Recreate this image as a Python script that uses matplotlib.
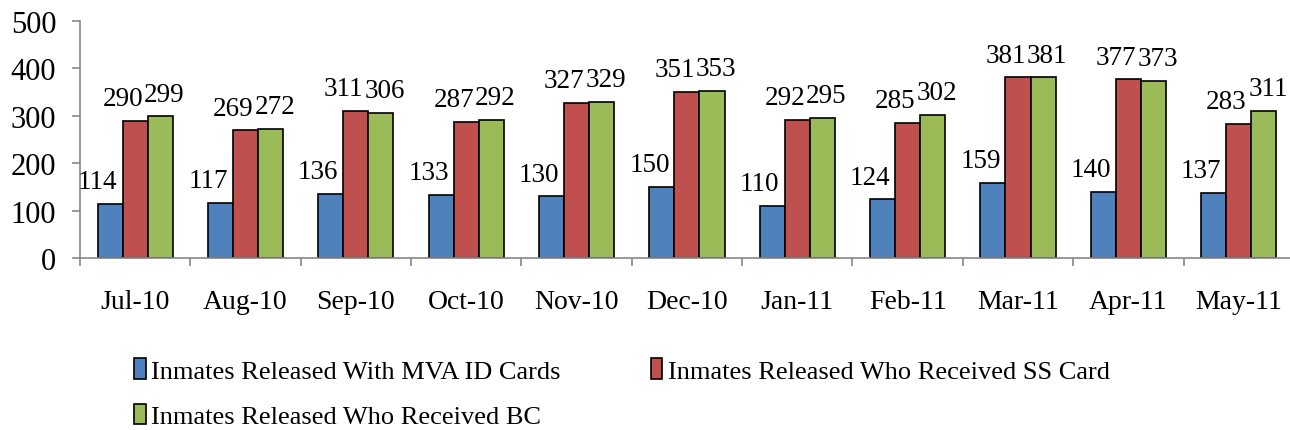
import matplotlib
matplotlib.use("Agg")
import matplotlib.pyplot as plt
import numpy as np

categories = ["Jul-10", "Aug-10", "Sep-10", "Oct-10", "Nov-10", "Dec-10",
              "Jan-11", "Feb-11", "Mar-11", "Apr-11", "May-11"]
mva_id = [114, 117, 136, 133, 130, 150, 110, 124, 159, 140, 137]
ss_card = [290, 269, 311, 287, 327, 351, 292, 285, 381, 377, 283]
bc = [299, 272, 306, 292, 329, 353, 295, 302, 381, 373, 311]
series_names = ["Inmates Released With MVA ID Cards",
                "Inmates Released Who Received SS Card",
                "Inmates Released Who Received BC"]
colors = ["#4F81BD", "#C0504D", "#9BBB59"]

plt.rcParams['font.family'] = ['Liberation Serif', 'DejaVu Serif']

fig = plt.figure(figsize=(12.9, 4.31), dpi=100)
ax = fig.add_axes([0.062, 0.399, 0.941, 0.55])

x = np.arange(len(categories))
w = 0.227
label_dx = [-9, -9, 3]
for i, (vals, name, c) in enumerate(zip([mva_id, ss_card, bc], series_names, colors)):
    pos = x + (i - 1) * w
    ax.bar(pos, vals, width=w, color=c, edgecolor="black", linewidth=1.2, label=name)
    for xp, v in zip(pos, vals):
        ax.annotate(str(v), (xp, v), xytext=(label_dx[i], 7), textcoords="offset points",
                    ha="center", va="bottom", fontsize=19.5)

ax.set_ylim(0, 500)
ax.set_xlim(-0.5, len(categories) - 0.5)
ax.set_yticks(range(0, 501, 100))
ax.tick_params(axis="y", labelsize=22, length=6, color="#888888", width=1.2, pad=11)
ax.set_xticks(x)
ax.set_xticklabels(categories, fontsize=20)
ax.tick_params(axis="x", length=0, pad=22)
ax.set_xticks(np.arange(-0.5, len(categories), 1.0), minor=True)
ax.tick_params(axis="x", which="minor", length=6, color="#888888", width=1.2)
for s in ["top", "right"]:
    ax.spines[s].set_visible(False)
for s in ["left", "bottom"]:
    ax.spines[s].set_color("#888888")
    ax.spines[s].set_linewidth(1.2)

handles, labels = ax.get_legend_handles_labels()
order = [0, 2, 1]
leg = fig.legend([handles[k] for k in order], [labels[k] for k in order],
                 loc="upper left", bbox_to_anchor=(0.104, 0.166),
                 ncol=2, frameon=False, fontsize=19, handlelength=0.45, handleheight=0.8,
                 handletextpad=0.2, columnspacing=3.4, labelspacing=0.8, borderaxespad=0,
                 borderpad=0)

fig.savefig("out.png", dpi=100)
